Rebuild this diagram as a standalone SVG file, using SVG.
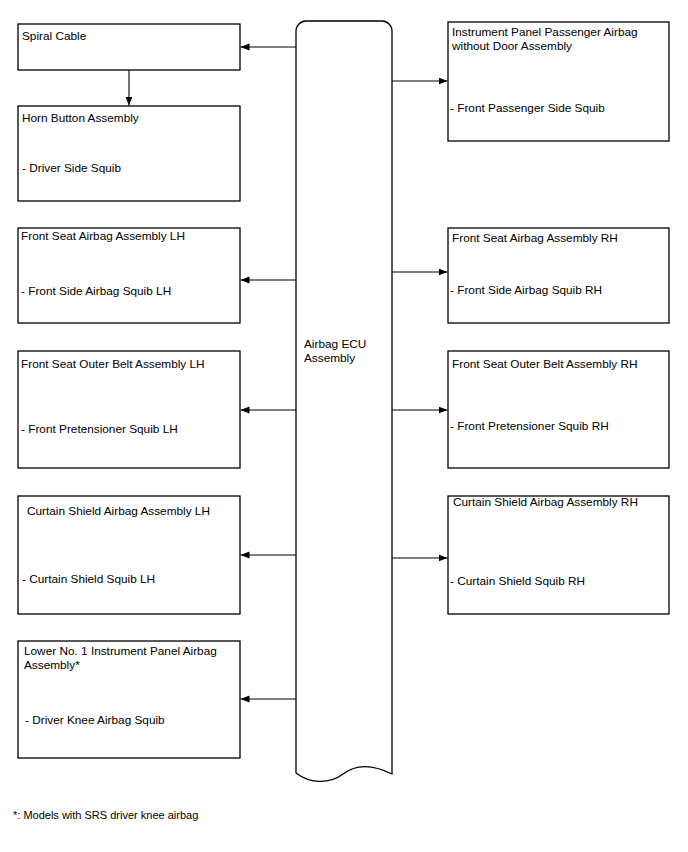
<svg xmlns="http://www.w3.org/2000/svg" width="688" height="852" viewBox="0 0 688 852">
<style>
.box{fill:#fff;stroke:#000;stroke-width:1.3}
.ecu{fill:#fff;stroke:#000;stroke-width:1.3}
text{font-family:"Liberation Sans",Arial,sans-serif;font-size:11.8px;fill:#000}
.note{font-size:11px}
.conn line{stroke:#000;stroke-width:1.1;marker-end:url(#arr)}
</style>
<defs>
<marker id="arr" markerUnits="userSpaceOnUse" markerWidth="10" markerHeight="8" refX="9" refY="3.5" orient="auto">
<path d="M0,0 L9,3.5 L0,7 z" fill="#000"/>
</marker>
</defs>
<rect width="688" height="852" fill="#fff"/>
<g id="ecu">
<path class="ecu" d="M296,31 A10,10 0 0 1 306,21 H382 A10,10 0 0 1 392,31 V774 C372,764 356,764 343,774 C330,784 310,784 296,773 Z"/>
<text x="304" y="348">Airbag ECU</text>
<text x="304" y="362">Assembly</text>
</g>
<g id="spiral-cable">
<rect class="box" x="18" y="24" width="222" height="46"/>
<text x="22" y="40">Spiral Cable</text>
</g>
<g id="horn-button">
<rect class="box" x="18" y="106" width="222" height="95"/>
<text x="22" y="122">Horn Button Assembly</text>
<text x="22" y="172">- Driver Side Squib</text>
</g>
<g id="passenger-airbag">
<rect class="box" x="448" y="22" width="221" height="119"/>
<text x="452" y="36">Instrument Panel Passenger Airbag</text>
<text x="452" y="50">without Door Assembly</text>
<text x="450" y="112">- Front Passenger Side Squib</text>
</g>
<g id="front-seat-lh">
<rect class="box" x="18" y="228" width="222" height="95"/>
<text x="21" y="240">Front Seat Airbag Assembly LH</text>
<text x="21" y="295">- Front Side Airbag Squib LH</text>
</g>
<g id="front-seat-rh">
<rect class="box" x="448" y="228" width="221" height="95"/>
<text x="452" y="242">Front Seat Airbag Assembly RH</text>
<text x="450" y="294">- Front Side Airbag Squib RH</text>
</g>
<g id="outer-belt-lh">
<rect class="box" x="18" y="351" width="222" height="117"/>
<text x="21" y="368">Front Seat Outer Belt Assembly LH</text>
<text x="21" y="433">- Front Pretensioner Squib LH</text>
</g>
<g id="outer-belt-rh">
<rect class="box" x="448" y="351" width="221" height="117"/>
<text x="452" y="368">Front Seat Outer Belt Assembly RH</text>
<text x="450" y="430"> - Front Pretensioner Squib RH</text>
</g>
<g id="curtain-lh">
<rect class="box" x="18" y="496" width="222" height="118"/>
<text x="27" y="515">Curtain Shield Airbag Assembly LH</text>
<text x="22" y="583">- Curtain Shield Squib LH</text>
</g>
<g id="curtain-rh">
<rect class="box" x="448" y="496" width="221" height="118"/>
<text x="453" y="506">Curtain Shield Airbag Assembly RH</text>
<text x="450" y="585">- Curtain Shield Squib RH</text>
</g>
<g id="knee-airbag">
<rect class="box" x="18" y="641" width="222" height="117"/>
<text x="24" y="655">Lower No. 1 Instrument Panel Airbag</text>
<text x="24" y="669">Assembly*</text>
<text x="25" y="724">- Driver Knee Airbag Squib</text>
</g>
<g id="connectors" class="conn">
<line x1="296" y1="47" x2="240.5" y2="47"/>
<line x1="129" y1="70" x2="129" y2="105.5"/>
<line x1="392" y1="81" x2="447.5" y2="81"/>
<line x1="296" y1="280" x2="240.5" y2="280"/>
<line x1="392" y1="272" x2="447.5" y2="272"/>
<line x1="296" y1="410" x2="240.5" y2="410"/>
<line x1="392" y1="410" x2="447.5" y2="410"/>
<line x1="296" y1="555" x2="240.5" y2="555"/>
<line x1="392" y1="558" x2="447.5" y2="558"/>
<line x1="296" y1="699" x2="240.5" y2="699"/>
</g>
<text class="note" x="13" y="819">*: Models with SRS driver knee airbag</text>
</svg>
